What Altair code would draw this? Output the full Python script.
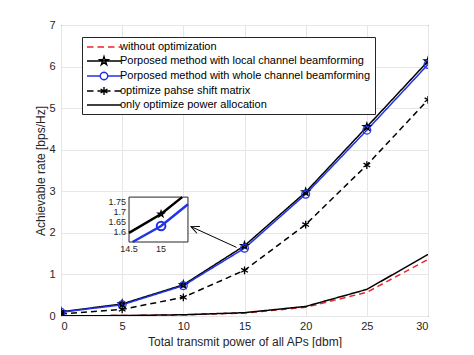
import math
import altair as alt
import pandas as pd

# ---------------- data ----------------
power = [0, 5, 10, 15, 20, 25, 30]
without_opt = [0.005, 0.01, 0.03, 0.07, 0.21, 0.57, 1.36]
local_bf = [0.10, 0.29, 0.75, 1.69, 2.98, 4.55, 6.13]
whole_bf = [0.09, 0.27, 0.73, 1.63, 2.93, 4.47, 6.05]
phase_shift = [0.05, 0.16, 0.45, 1.10, 2.20, 3.63, 5.20]
power_only = [0.005, 0.01, 0.03, 0.08, 0.23, 0.64, 1.48]

series_names = [
    "without optimization",
    "Porposed method with local channel beamforming",
    "Porposed method with whole channel beamforming",
    "optimize pahse shift matrix",
    "only optimize power allocation",
]
series_values = [without_opt, local_bf, whole_bf, phase_shift, power_only]
series_colors = ["#e8262b", "#000000", "#2233e6", "#000000", "#000000"]
series_dashes = [[6, 4], [1, 0], [1, 0], [6, 4], [1, 0]]

x_ticks = [0, 5, 10, 15, 20, 25, 30]
y_ticks = [0, 1, 2, 3, 4, 5, 6, 7]
x_title = "Total transmit power of all APs [dbm]"
y_title = "Achievable rate [bps/Hz]"

# inset: window of the data it zooms into, and where it sits (in main-axes units)
inset_x_domain = [14.5, 15.42]
inset_y_domain = [1.55, 1.775]
inset_x_ticks = [14.5, 15]
inset_y_ticks = [1.6, 1.65, 1.7, 1.75]
inset_place_x = [5.56, 10.38]
inset_place_y = [1.78, 2.86]

# arrow annotation (data coordinates of the main axes)
arrow_from = (14.35, 1.65)
arrow_to = (10.63, 2.15)

W, H = 367, 291
FONT = "Liberation Sans"
AX = "#262626"

rows = []
for name, vals in zip(series_names, series_values):
    for p, v in zip(power, vals):
        rows.append({"power": p, "rate": v, "series": name})
df = pd.DataFrame(rows)


def to_main_x(v):
    a, b = inset_x_domain
    c, d = inset_place_x
    return c + (v - a) * (d - c) / (b - a)


def to_main_y(v):
    a, b = inset_y_domain
    c, d = inset_place_y
    return c + (v - a) * (d - c) / (b - a)


# the inset shows the same curves seen through a window: clip them to it
def clip_to_window(xs, ys, x0, x1, y0, y1):
    out = []
    for i in range(len(xs) - 1):
        ax, ay, bx, by = xs[i], ys[i], xs[i + 1], ys[i + 1]
        dx, dy = bx - ax, by - ay
        t0, t1 = 0.0, 1.0
        ok = True
        for p, q in ((-dx, ax - x0), (dx, x1 - ax), (-dy, ay - y0), (dy, y1 - ay)):
            if p == 0:
                if q < 0:
                    ok = False
                    break
            else:
                t = q / p
                if p < 0:
                    t0 = max(t0, t)
                else:
                    t1 = min(t1, t)
        if ok and t0 <= t1:
            for t in (t0, t1):
                pt = (ax + t * dx, ay + t * dy)
                if not out or abs(out[-1][0] - pt[0]) > 1e-9 or abs(out[-1][1] - pt[1]) > 1e-9:
                    out.append(pt)
    return out


inset_series = [series_names[1], series_names[2]]
inset_rows = []
inset_pt_rows = []
for name in inset_series:
    vals = series_values[series_names.index(name)]
    for k, (px, py) in enumerate(clip_to_window(power, vals, inset_x_domain[0], inset_x_domain[1],
                                               inset_y_domain[0], inset_y_domain[1])):
        inset_rows.append({"u": to_main_x(px), "v": to_main_y(py), "series": name, "k": k})
    for px, py in zip(power, vals):
        if inset_x_domain[0] <= px <= inset_x_domain[1] and inset_y_domain[0] <= py <= inset_y_domain[1]:
            inset_pt_rows.append({"u": to_main_x(px), "v": to_main_y(py), "series": name})
inset_line_df = pd.DataFrame(inset_rows)
inset_pt_df = pd.DataFrame(inset_pt_rows)

inset_xlab_df = pd.DataFrame({"u": [to_main_x(t) for t in inset_x_ticks],
                              "v": [inset_place_y[0]] * len(inset_x_ticks),
                              "label": [f"{t:g}" for t in inset_x_ticks]})
inset_ylab_df = pd.DataFrame({"u": [inset_place_x[0]] * len(inset_y_ticks),
                              "v": [to_main_y(t) for t in inset_y_ticks],
                              "label": [f"{t:g}" for t in inset_y_ticks]})
box_df = pd.DataFrame({"u": [inset_place_x[0]], "u2": [inset_place_x[1]],
                       "v": [inset_place_y[0]], "v2": [inset_place_y[1]]})


# ---------------- marker / legend shapes (SVG paths) ----------------
def fmt(a, b):
    return f"{a:.3f} {b:.3f}"


def seg(x0, y0, x1, y1):
    return f"M {fmt(x0, y0)} L {fmt(x1, y1)} "


def star_path(cx, R):
    r = R * 0.382
    pts = []
    for k in range(10):
        ang = math.radians(-90 + 36 * k)
        rad = R if k % 2 == 0 else r
        pts.append((cx + rad * math.cos(ang), rad * math.sin(ang)))
    return "M " + " L ".join(fmt(a, b) for a, b in pts) + " Z "


def ring_path(cx, R, n=20):
    pts = [(cx + R * math.cos(2 * math.pi * k / n), R * math.sin(2 * math.pi * k / n)) for k in range(n)]
    return "M " + " L ".join(fmt(a, b) for a, b in pts) + " Z "


def asterisk(cx, R):
    s = 0.866 * R
    h = 0.5 * R
    return seg(cx, -R, cx, R) + seg(cx - s, -h, cx + s, h) + seg(cx - s, h, cx + s, -h)


STAR = star_path(0, 1).strip()
ASTERISK = asterisk(0, 1).strip()
ARROW_HEAD = "M -0.55 1.2 L 0 0 L 0.55 1.2"

mid = 2.4
leg_red = (seg(-1, 0, 0.3, 0) + seg(1.1, 0, 2.4, 0) + seg(3.2, 0, 4.5, 0) + seg(5.3, 0, 5.8, 0)).strip()
leg_local = (seg(-1, 0, 5.8, 0) + star_path(mid, 0.9)).strip()
leg_whole = (seg(-1, 0, 1.65, 0) + seg(3.15, 0, 5.8, 0) + ring_path(mid, 0.75)).strip()
leg_phase = (seg(-1, 0, 0.3, 0) + seg(1.1, 0, 3.7, 0) + seg(4.5, 0, 5.8, 0) + asterisk(mid, 0.8)).strip()
leg_power = seg(-1, 0, 5.8, 0).strip()
legend_shapes = [leg_red, leg_local, leg_whole, leg_phase, leg_power]

# ---------------- main axes ----------------
xsc = alt.Scale(domain=[0, 30], nice=False, zero=False)
ysc = alt.Scale(domain=[0, 7], nice=False, zero=False)
xenc = alt.X("power:Q", scale=xsc,
             axis=alt.Axis(values=x_ticks, title=x_title, grid=True,
                           labelPadding=4, titleY=25, titleBaseline="middle"))
yenc = alt.Y("rate:Q", scale=ysc,
             axis=alt.Axis(values=y_ticks, title=y_title, grid=True,
                           labelPadding=6, titleX=-21, titleBaseline="middle"))

lines = alt.Chart(df).mark_line(strokeWidth=1.5, clip=True).encode(
    x=xenc, y=yenc,
    color=alt.Color("series:N", scale=alt.Scale(domain=series_names, range=series_colors), legend=None),
    strokeDash=alt.StrokeDash("series:N", scale=alt.Scale(domain=series_names, range=series_dashes), legend=None),
)

marker_series = [series_names[1], series_names[2], series_names[3]]
markers = alt.Chart(df[df["series"].isin(marker_series)]).mark_point(
    filled=False, size=60, strokeWidth=1.3, opacity=1, clip=True
).encode(
    x="power:Q", y="rate:Q",
    color=alt.Color("series:N", scale=alt.Scale(domain=marker_series,
                    range=[series_colors[1], series_colors[2], series_colors[3]]), legend=None),
    shape=alt.Shape("series:N", scale=alt.Scale(domain=marker_series,
                    range=[STAR, "circle", ASTERISK]), legend=None),
)

legend_layer = alt.Chart(pd.DataFrame({"series": pd.Series([], dtype=str)})).mark_point(
    filled=False, size=100, strokeWidth=1.4, opacity=1
).encode(
    color=alt.Color("series:N", scale=alt.Scale(domain=series_names, range=series_colors),
                    legend=alt.Legend(title=None, orient="none", legendX=21, legendY=12,
                                      symbolSize=100, symbolStrokeWidth=1.4,
                                      labelOffset=22, labelFontSize=11, labelFont=FONT,
                                      labelColor="#000000", padding=4, rowPadding=1,
                                      strokeColor=AX, fillColor="white", labelLimit=400)),
    shape=alt.Shape("series:N", scale=alt.Scale(domain=series_names, range=legend_shapes)),
)

arrow_df = pd.DataFrame({"x": [arrow_from[0]], "y": [arrow_from[1]],
                         "x2": [arrow_to[0]], "y2": [arrow_to[1]]})
arrow_line = alt.Chart(arrow_df).mark_rule(color="black", strokeWidth=1).encode(
    x="x:Q", y="y:Q", x2="x2:Q", y2="y2:Q")
arrow_head = alt.Chart(arrow_df).mark_point(
    shape=ARROW_HEAD, angle=294, size=180, filled=False,
    color="black", strokeWidth=1, opacity=1
).encode(x="x2:Q", y="y2:Q")

# ---------------- inset (drawn inside the main axes) ----------------
inset_box = alt.Chart(box_df).mark_rect(fill="white", stroke=AX, strokeWidth=1).encode(
    x="u:Q", x2="u2:Q", y="v:Q", y2="v2:Q")
inset_lines = alt.Chart(inset_line_df).mark_line(strokeWidth=2.5).encode(
    x="u:Q", y="v:Q", order="k:Q",
    color=alt.Color("series:N", scale=alt.Scale(domain=inset_series,
                    range=[series_colors[1], series_colors[2]]), legend=None),
)
inset_star = alt.Chart(inset_pt_df[inset_pt_df["series"] == series_names[1]]).mark_point(
    shape=STAR, filled=True, size=110, color="black", opacity=1
).encode(x="u:Q", y="v:Q")
inset_circle = alt.Chart(inset_pt_df[inset_pt_df["series"] == series_names[2]]).mark_point(
    shape="circle", filled=False, size=75, strokeWidth=2, color=series_colors[2], opacity=1
).encode(x="u:Q", y="v:Q")
inset_xlabels = alt.Chart(inset_xlab_df).mark_text(
    font=FONT, fontSize=9, color=AX, baseline="top", dy=3
).encode(x="u:Q", y="v:Q", text="label:N")
inset_ylabels = alt.Chart(inset_ylab_df).mark_text(
    font=FONT, fontSize=9, color=AX, align="right", baseline="middle", dx=-3
).encode(x="u:Q", y="v:Q", text="label:N")

chart = alt.layer(
    lines, markers, arrow_line, arrow_head,
    inset_box, inset_lines, inset_star, inset_circle, inset_xlabels, inset_ylabels,
    legend_layer,
).resolve_scale(color="independent", shape="independent").properties(
    width=W, height=H,
    padding={"left": 53, "top": 17, "right": 30, "bottom": 32},
    autosize=alt.AutoSizeParams(type="none"),
    view=alt.ViewBackground(fill="white", stroke=AX),
).configure(background="white").configure_axis(
    labelFont=FONT, labelFontSize=11, labelColor=AX,
    titleFont=FONT, titleFontSize=12, titleFontWeight="normal", titleColor=AX,
    domain=False, ticks=False, tickSize=0, gridColor="#e6e6e6", gridWidth=1,
)

chart.save("out.html", embed_options={"renderer": "svg", "actions": False})
